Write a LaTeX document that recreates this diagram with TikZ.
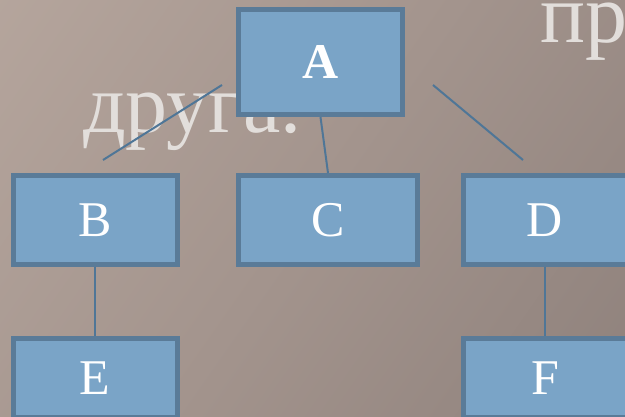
\documentclass[tikz,border=0pt]{standalone}
\usepackage{fontspec}
\setmainfont{Liberation Serif}
\definecolor{bgl}{HTML}{B9A9A0}
\definecolor{bgm}{HTML}{A3948D}
\definecolor{bgd}{HTML}{8A7D78}
\definecolor{boxfill}{HTML}{7AA4C7}
\definecolor{boxline}{HTML}{5A7B98}
\definecolor{conn}{HTML}{4F7697}
\definecolor{bgtext}{HTML}{E2DEDB}
\tikzset{
  orgbox/.style={draw=boxline, line width=5pt, fill=boxfill, rectangle,
    minimum width=164pt, minimum height=89pt, inner sep=0pt,
    text=white, font=\fontsize{50}{50}\selectfont},
  link/.style={draw=conn, line width=2pt},
  bigtext/.style={text=bgtext, font=\fontsize{84}{84}\selectfont, inner sep=0pt, anchor=base west}
}
\begin{document}
\begin{tikzpicture}[x=1pt,y=-1pt]
\useasboundingbox (0,0) rectangle (625,417);
\shade[left color=bgl, right color=bgd, middle color=bgm, shading angle=55] (-200,-200) rectangle (825,617);
\node[bigtext] (t1) at (83,133) {друга.};
\node[bigtext] (t2) at (540,43) {пр};
\coordinate (ab1) at (222,85);
\coordinate (ab2) at (103,160);
\coordinate (ad1) at (433,85);
\coordinate (ad2) at (523,160);
\node[orgbox, minimum height=105pt, font=\fontsize{50}{50}\selectfont\bfseries] (A) at (320.5,62) {A};
\node[orgbox] (B) at (95,220) {B};
\node[orgbox, minimum width=179pt] (C) at (328,220) {C};
\node[orgbox] (D) at (545,220) {D};
\node[orgbox, minimum height=78pt] (E) at (95,378) {E};
\node[orgbox, minimum height=78pt] (F) at (545,378) {F};
\draw[link] (ab1) -- (ab2);
\draw[link] (ad1) -- (ad2);
\draw[link] (A.south) -- (C.north);
\draw[link] (B.south) -- (E.north);
\draw[link] (D.south) -- (F.north);
\end{tikzpicture}
\end{document}
